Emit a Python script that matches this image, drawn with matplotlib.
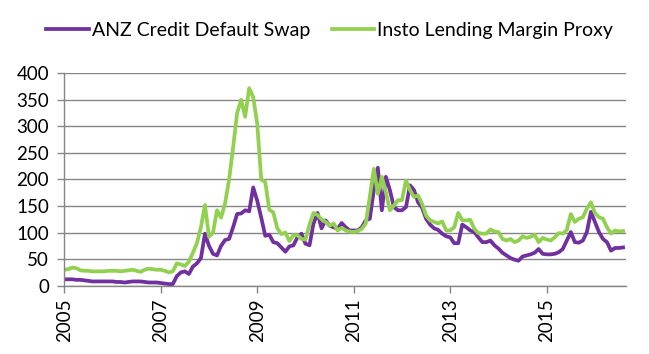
import numpy as np
import matplotlib
matplotlib.use("Agg")
import matplotlib.pyplot as plt

# monthly values, Jan 2005 .. Aug 2016
anz_cds = [
    12, 12, 12, 11, 11, 10, 9, 8, 8, 8, 8, 8,            # 2005
    8, 7, 7, 6, 7, 8, 8, 8, 7, 6, 6, 6,                  # 2006
    5, 4, 3, 3, 18, 25, 27, 22, 36, 42, 52, 98,          # 2007
    75, 60, 57, 75, 86, 88, 110, 135, 136, 142, 140, 185,  # 2008
    160, 128, 94, 96, 82, 80, 72, 64, 74, 76, 91, 98,    # 2009
    79, 76, 117, 137, 108, 123, 113, 110, 107, 118, 110, 104,  # 2010
    104, 104, 110, 123, 126, 180, 222, 142, 205, 180, 148, 142,  # 2011
    142, 148, 189, 180, 157, 147, 126, 115, 108, 105, 98, 93,  # 2012
    91, 80, 80, 115, 110, 104, 101, 91, 82, 82, 85, 76,  # 2013
    70, 62, 57, 52, 49, 47, 55, 57, 59, 62, 69, 60,      # 2014
    59, 59, 60, 63, 69, 85, 101, 82, 81, 85, 101, 139,   # 2015
    120, 101, 88, 82, 66, 71, 71, 72,                    # 2016
]
insto_margin = [
    30, 31, 34, 33, 29, 28, 28, 27, 27, 27, 27, 28,
    28, 28, 27, 28, 29, 30, 28, 26, 30, 32, 31, 30,
    30, 28, 25, 27, 42, 40, 37, 45, 62, 80, 110, 152,
    92, 100, 142, 128, 155, 200, 260, 325, 350, 318, 372, 355,
    305, 200, 195, 143, 138, 108, 97, 100, 84, 95, 95, 88,
    87, 115, 137, 133, 125, 120, 113, 117, 104, 109, 104, 102,
    101, 103, 107, 117, 167, 220, 173, 205, 176, 142, 151, 161,
    161, 198, 180, 167, 170, 154, 132, 123, 120, 117, 121, 104,
    104, 110, 137, 123, 123, 124, 107, 99, 98, 98, 106, 102,
    101, 88, 85, 88, 82, 85, 93, 90, 92, 96, 82, 90,
    87, 85, 91, 99, 98, 105, 135, 120, 126, 129, 145, 157,
    137, 129, 126, 110, 98, 104, 102, 103,
]
year_ticks = [2005, 2007, 2009, 2011, 2013, 2015]

x = 2005 + np.arange(len(anz_cds)) / 12.0

plt.rcParams['font.family'] = ['Lato', 'DejaVu Sans']

fig = plt.figure(figsize=(6.49, 3.54), dpi=100)
ax = fig.add_axes([0.099, 0.193, 0.866, 0.6])

ax.plot(x, anz_cds, color='#7030A0', lw=2.7, label='ANZ Credit Default Swap',
        solid_joinstyle='round')
ax.plot(x, insto_margin, color='#92D050', lw=2.7, label='Insto Lending Margin Proxy',
        solid_joinstyle='round')

ax.set_xlim(2005, 2016.65)
ax.set_ylim(0, 400)
ax.set_yticks(range(0, 401, 50))
ax.set_xticks(year_ticks)
ax.set_xticklabels([str(y) for y in year_ticks], rotation=90)

ax.grid(axis='y', color='#868686', lw=1)
ax.set_axisbelow(True)
for s in ['top', 'right']:
    ax.spines[s].set_visible(False)
for s in ['left', 'bottom']:
    ax.spines[s].set_color('#868686')
    ax.spines[s].set_linewidth(1)
ax.tick_params(axis='both', colors='#868686', labelcolor='black', labelsize=13.5,
               length=5, width=1)
ax.tick_params(axis='y', pad=6)
ax.tick_params(axis='x', pad=4)

ax.legend(loc='center', bbox_to_anchor=(0.508, 0.915), bbox_transform=fig.transFigure,
          ncol=2, frameon=False, fontsize=14, handlelength=2.2,
          handletextpad=0.15, columnspacing=1.1)

fig.savefig('out.png', dpi=100)
